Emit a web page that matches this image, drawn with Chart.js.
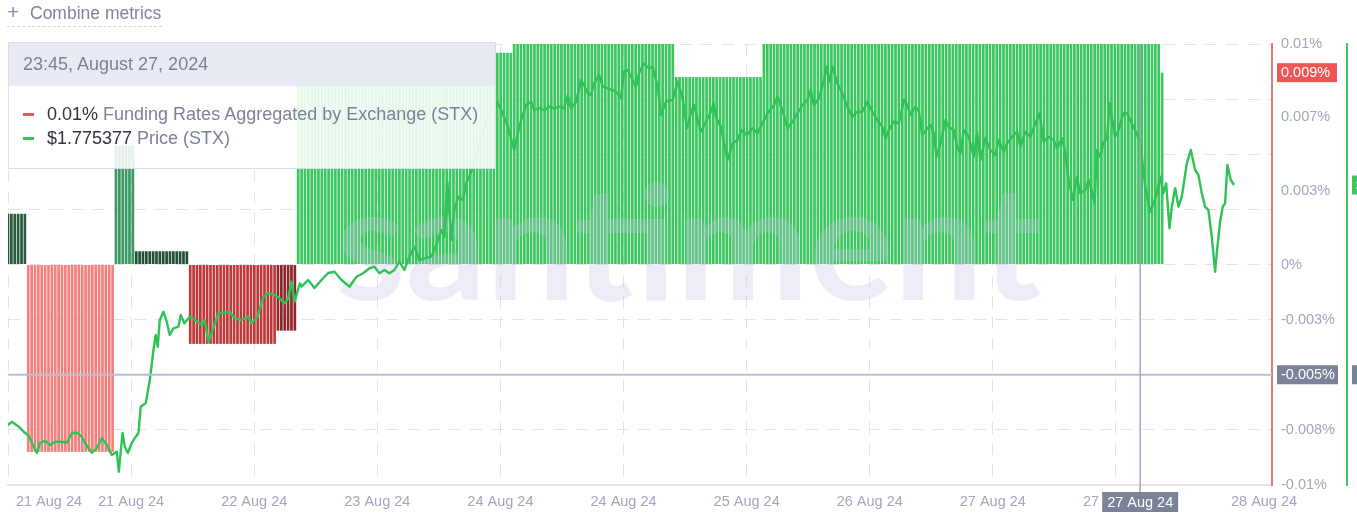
<!DOCTYPE html>
<html>
<head>
<meta charset="utf-8">
<script src="https://cdn.jsdelivr.net/npm/chart.js@4.4.1/dist/chart.umd.min.js"></script>
<style>
html,body{margin:0;padding:0;background:#fff;width:1357px;height:526px;overflow:hidden;font-family:"Liberation Sans",Arial,sans-serif;}
#wrap{position:relative;width:1357px;height:526px;}
#c{position:absolute;left:0;top:0;}
#combine{position:absolute;left:7px;top:0;height:26px;width:155px;line-height:24px;font-size:17.5px;color:#7f869b;white-space:nowrap;border-bottom:1px dashed #d3d6df;}
#combine .plus{display:inline-block;width:23px;font-size:21px;color:#8a90a3;}
#tip{position:absolute;left:8px;top:42px;width:488px;height:127px;border:1px solid #dadde6;background:rgba(255,255,255,0.87);box-sizing:border-box;}
#tipHead{height:43px;background:rgba(231,234,243,0.94);line-height:43px;padding-left:14px;font-size:18px;color:#7b8299;white-space:nowrap;}
.row{position:absolute;left:14px;height:22px;line-height:22px;font-size:18px;color:#7b8299;white-space:nowrap;}
.dash{display:inline-block;width:11px;height:3px;vertical-align:middle;margin-right:13px;position:relative;top:-1px;}
.val{color:#30343f;}
</style>
</head>
<body>
<div id="wrap">
<canvas id="c" width="1357" height="526"></canvas>
<div id="combine"><span class="plus">+</span>Combine metrics</div>
<div id="tip">
  <div id="tipHead"></div>
  <div class="row" style="top:60px"><span class="dash" style="background:#e25b5b"></span><span class="val" id="fVal"></span> <span id="fName"></span></div>
  <div class="row" style="top:84px"><span class="dash" style="background:#35c35a"></span><span class="val" id="pVal"></span> <span id="pName"></span></div>
</div>
</div>
<script>
// ---------------- DATA ----------------
// time unit: hours since 21 Aug 2024 00:00
const startDay = 21;
const monthShort = 'Aug';
const monthLong = 'August';
const yearFull = 2024;

// Funding rate (%), constant over each funding period, sampled every 30 min
const fundingBlockStarts = [0, 3, 16, 19, 27, 40, 43, 75, 99, 112, 171];
const fundingBlockValues = [0.0023, -0.0085, 0.0054, 0.0006, -0.0036, -0.0030, 0.0096, 0.0101, 0.0085, 0.0101, 0.0087];
const fundingStepHours = 0.5;
const fundingEndHour = 171.5;

// STX price (USD)
const priceHours = [0,0.59,1.04,1.58,2.32,3.06,3.55,4.29,4.73,5.47,6.21,6.95,7.99,8.73,9.47,10.21,10.95,11.39,12.43,13.17,13.91,14.64,15.38,16.12,16.42,16.97,17.31,17.75,18.34,18.79,19.33,19.67,20.41,21.01,21.55,21.89,22.19,22.49,23.03,23.52,23.96,24.51,25.25,25.59,26.14,26.92,27.66,28.70,29.14,29.69,30.43,31.17,31.91,32.84,33.58,34.62,35.61,36.09,36.98,37.82,38.57,39.54,40.24,40.98,41.52,42.01,42.46,43.24,43.49,44.48,45.41,46.45,47.44,48.37,49.41,50.59,51.63,52.62,53.55,54.29,55.03,55.77,56.51,57.25,57.99,58.73,59.47,60.21,60.95,61.69,62.72,63.46,64.20,64.64,65.09,65.68,66.12,66.72,67.41,67.90,68.64,69.53,70.41,71.30,72.49,73.08,74.07,75.00,75.55,76.04,76.78,77.51,77.96,78.70,79.44,80.18,80.92,81.66,82.40,82.94,83.43,84.17,84.91,85.36,85.90,86.39,86.83,87.57,88.12,88.86,89.60,90.34,90.83,91.27,91.82,92.31,93.05,93.49,94.23,94.97,95.52,96.26,96.75,97.49,98.48,99.22,99.96,100.59,101.18,101.63,102.66,103.40,104.14,104.54,104.88,105.62,106.61,107.35,108.09,108.68,109.47,110.31,111.05,111.79,112.53,113.51,114.01,114.75,115.49,116.23,116.97,117.71,118.45,118.93,119.42,120.16,120.90,121.30,121.64,122.15,122.88,123.62,124.36,125.10,125.84,126.58,127.32,128.06,128.80,129.54,130.03,130.52,131.26,132.00,132.74,133.24,133.73,134.47,134.96,135.46,136.20,136.69,137.17,137.57,138.17,138.91,139.39,140.13,140.63,141.12,141.61,142.35,143.09,143.59,144.08,144.82,145.56,146.30,146.79,147.53,148.03,148.77,149.51,150.00,150.74,151.48,152.22,152.86,153.45,154.19,154.93,155.43,156.17,156.66,157.15,157.80,158.39,158.88,159.62,160.10,160.61,160.99,161.35,161.83,162.32,162.82,163.21,163.57,164.05,164.54,165.28,165.78,166.27,166.76,167.50,167.75,168.00,168.49,169.23,169.72,170.22,170.71,171.20,171.60,172.09,172.44,172.93,173.42,173.92,174.66,175.25,175.89,176.38,176.88,177.37,177.86,178.36,178.85,179.19,179.59,179.98,180.33,180.67,181.17,181.66];
const priceValues = [1.4914,1.4947,1.4924,1.4897,1.4847,1.4807,1.4734,1.4634,1.4734,1.4757,1.4714,1.4747,1.4747,1.4737,1.4834,1.4837,1.4797,1.4734,1.4637,1.4684,1.4784,1.4714,1.4614,1.4647,1.4447,1.4834,1.4697,1.4634,1.4734,1.4784,1.4834,1.5097,1.5134,1.5364,1.5664,1.5814,1.5697,1.5964,1.6047,1.5947,1.5814,1.5881,1.5897,1.6014,1.5931,1.5997,1.5964,1.5914,1.5964,1.5747,1.5881,1.6034,1.6037,1.6047,1.5981,1.5964,1.5997,1.5931,1.5997,1.6197,1.6231,1.6214,1.6181,1.6131,1.6181,1.6347,1.6147,1.6331,1.6297,1.6364,1.6284,1.6364,1.6434,1.6447,1.6364,1.6297,1.6397,1.6431,1.6481,1.6497,1.6431,1.6464,1.6431,1.6464,1.6547,1.6464,1.6597,1.6697,1.6564,1.6581,1.6597,1.6714,1.6864,1.6797,1.7347,1.6764,1.7064,1.7197,1.7164,1.7331,1.7447,1.7664,1.7844,1.8044,1.8147,1.8064,1.7897,1.7664,1.7834,1.7964,1.8114,1.8147,1.8064,1.8084,1.8064,1.8097,1.8081,1.8097,1.8081,1.8214,1.8081,1.8147,1.8364,1.8314,1.8231,1.8214,1.8331,1.8414,1.8297,1.8281,1.8264,1.8231,1.8184,1.8447,1.8464,1.8397,1.8297,1.8431,1.8531,1.8481,1.8497,1.8297,1.8014,1.8147,1.8164,1.8347,1.8181,1.7881,1.8031,1.8114,1.7847,1.7947,1.8047,1.8131,1.7997,1.7897,1.7564,1.7731,1.7764,1.7864,1.7814,1.7881,1.7831,1.7931,1.8031,1.8114,1.8197,1.8064,1.7881,1.7947,1.8031,1.8114,1.8164,1.8264,1.8114,1.8181,1.8364,1.8497,1.8347,1.8497,1.8331,1.8231,1.8097,1.7997,1.8047,1.8047,1.8147,1.8047,1.7964,1.7897,1.7781,1.7864,1.7947,1.7931,1.8164,1.8114,1.8014,1.8097,1.8047,1.7814,1.7881,1.7914,1.7831,1.7597,1.7731,1.7964,1.7897,1.7864,1.7697,1.7631,1.7864,1.7797,1.7597,1.7831,1.7564,1.7781,1.7664,1.7614,1.7764,1.7647,1.7731,1.7797,1.7847,1.7697,1.7847,1.7797,1.7931,1.8031,1.7747,1.7797,1.7764,1.7681,1.7781,1.7631,1.7364,1.7164,1.7397,1.7231,1.7264,1.7364,1.7247,1.7131,1.7664,1.7597,1.7747,1.7764,1.8131,1.7981,1.7797,1.7864,1.8031,1.8031,1.7964,1.7897,1.7781,1.775377,1.7597,1.7297,1.7047,1.7131,1.7231,1.7397,1.7231,1.7331,1.6881,1.7097,1.7281,1.7097,1.7197,1.7531,1.7664,1.7464,1.7414,1.7231,1.7097,1.7064,1.6797,1.6447,1.6697,1.6947,1.7097,1.7131,1.7514,1.7364,1.7314];

// Axis ticks
const fundingGridValues = [-0.01, -0.0075, -0.005, -0.0025, 0, 0.0025, 0.005, 0.0075, 0.01];
const fundingTickValues = [-0.01, -0.0075, -0.0025, 0, 0.00333, 0.00667, 0.01];
const fundingTickLabels = ['-0.01%', '-0.008%', '-0.003%', '0%', '0.003%', '0.007%', '0.01%'];
const xGridHours = [0, 18.24, 36.48, 54.72, 72.96, 91.2, 109.44, 127.68, 145.92, 164.16];
const xLabelHours = [6.07, 18.24, 36.48, 54.72, 72.96, 91.2, 109.44, 127.68, 145.92, 164.16, 186.1];

// Hover state shown in the reference
const crosshairHour = 167.75;
const crosshairFunding = -0.005;

const fundingName = 'Funding Rates Aggregated by Exchange (STX)';
const priceName = 'Price (STX)';

// ---------------- BUILD ----------------
const fundingBars = [];
fundingBlockStarts.forEach((s, i) => {
  const e = i + 1 < fundingBlockStarts.length ? fundingBlockStarts[i + 1] : fundingEndHour;
  for (let t = s; t < e - 1e-9; t += fundingStepHours) fundingBars.push({x: t, y: fundingBlockValues[i]});
});
const pricePoints = priceHours.map((h, i) => ({x: h, y: priceValues[i]}));

function dayLabel(h) { return (startDay + Math.floor(h / 24)) + ' ' + monthShort + ' 24'; }
function fmtPct(v) { return String(Number(v.toFixed(3))) + '%'; }
function fundingAt(h) {
  let v = fundingBlockValues[0];
  fundingBlockStarts.forEach((s, i) => { if (h >= s) v = fundingBlockValues[i]; });
  return v;
}
function lerp(a, b, t) { return a.map((x, i) => Math.round(x + (b[i] - x) * t)); }
function stopColor(stops, a) {
  if (a <= stops[0][0]) return stops[0][1];
  for (let i = 1; i < stops.length; i++) {
    if (a <= stops[i][0]) {
      const t = (a - stops[i - 1][0]) / (stops[i][0] - stops[i - 1][0]);
      return lerp(stops[i - 1][1], stops[i][1], t);
    }
  }
  return stops[stops.length - 1][1];
}
const greenStops = [[0.0006, [33, 80, 54]], [0.0023, [40, 92, 62]], [0.0054, [58, 150, 98]], [0.0085, [60, 198, 96]]];
const redStops = [[0.003, [140, 40, 40]], [0.0036, [190, 58, 58]], [0.0085, [243, 128, 128]]];
function fundingColor(v) {
  const c = v >= 0 ? stopColor(greenStops, v) : stopColor(redStops, -v);
  return 'rgb(' + c.join(',') + ')';
}

const fundingAxisTicks = Array.from(new Set(fundingGridValues.concat(fundingTickValues))).sort((a, b) => a - b);
const xAxisTicks = Array.from(new Set(xGridHours.concat(xLabelHours))).sort((a, b) => a - b);
const tickFont = {family: 'Liberation Sans', size: 14.5};
const tickColor = '#a1a8bd';
const gridColor = '#e1e4ec';

const overlay = {
  id: 'overlay',
  afterDatasetDraw(chart, args) {
    if (args.index !== 1) return;
    const ctx = chart.ctx;
    ctx.save();
    let size = 160;
    ctx.font = '700 ' + size + 'px Lato, "Noto Sans", sans-serif';
    const w = ctx.measureText('santiment').width;
    size = size * 705 / w;
    ctx.font = '700 ' + size + 'px Lato, "Noto Sans", sans-serif';
    ctx.fillStyle = 'rgba(192,197,226,0.3)';
    ctx.textBaseline = 'alphabetic';
    ctx.fillText('santiment', 336, 300);
    ctx.restore();
  },
  afterDatasetsDraw(chart) {
    const ctx = chart.ctx, a = chart.chartArea;
    const x = chart.scales.x.getPixelForValue(crosshairHour);
    const y = chart.scales.yF.getPixelForValue(crosshairFunding);
    ctx.save();
    ctx.strokeStyle = '#b9bed5';
    ctx.lineWidth = 2;
    ctx.beginPath(); ctx.moveTo(a.left, y); ctx.lineTo(a.right, y); ctx.stroke();
    ctx.strokeStyle = '#9ea6bf';
    ctx.lineWidth = 1.5;
    ctx.beginPath(); ctx.moveTo(x, a.top); ctx.lineTo(x, a.bottom + 8); ctx.stroke();
    ctx.restore();
  },
  afterDraw(chart) {
    const ctx = chart.ctx, a = chart.chartArea;
    const yF = chart.scales.yF, yP = chart.scales.yP, xs = chart.scales.x;
    const x = xs.getPixelForValue(crosshairHour);
    const yc = yF.getPixelForValue(crosshairFunding);
    const lastF = fundingBlockValues[fundingBlockValues.length - 1];
    const lastP = priceValues[priceValues.length - 1];
    ctx.save();
    ctx.font = '14.5px "Liberation Sans", Arial, sans-serif';
    ctx.textBaseline = 'middle';
    function box(x0, yMid, w, fill, text) {
      ctx.fillStyle = fill;
      ctx.fillRect(x0, yMid - 9.5, w, 19);
      ctx.fillStyle = '#ffffff';
      ctx.textAlign = 'left';
      ctx.fillText(text, x0 + 4, yMid + 0.5);
    }
    box(yF.left + 5, yF.getPixelForValue(lastF), 60, '#f05656', fmtPct(lastF));
    box(yF.left + 5, yc, 61, '#7b8399', fmtPct(crosshairFunding));
    box(yP.left + 5, yP.getPixelForValue(lastP), 60, '#3cc85f', '$' + lastP.toFixed(2));
    box(yP.left + 5, yc, 60, '#7b8399', '');
    // date label under crosshair
    ctx.fillStyle = '#7b8399';
    ctx.fillRect(x - 38, a.bottom + 7, 76, 20);
    ctx.fillStyle = '#ffffff';
    ctx.textAlign = 'center';
    ctx.fillText(dayLabel(crosshairHour), x, a.bottom + 17.5);
    ctx.restore();
  }
};

new Chart(document.getElementById('c'), {
  type: 'bar',
  data: {
    datasets: [
      {
        type: 'line', label: priceName, data: pricePoints, xAxisID: 'x', yAxisID: 'yP',
        borderColor: '#30c256', borderWidth: 2.4, pointRadius: 0, tension: 0,
        borderJoinStyle: 'round', order: 0
      },
      {
        type: 'bar', label: fundingName, data: fundingBars, xAxisID: 'x', yAxisID: 'yF',
        backgroundColor: c => fundingColor(c.raw ? c.raw.y : 0),
        barPercentage: 0.8, categoryPercentage: 1, order: 1
      }
    ]
  },
  options: {
    responsive: false,
    animation: false,
    devicePixelRatio: 1,
    layout: {padding: {left: 6, top: 44, right: 0, bottom: 0}},
    plugins: {legend: {display: false}, tooltip: {enabled: false}},
    events: [],
    scales: {
      x: {
        type: 'linear', position: 'bottom', min: 0, max: 187.28, offset: false,
        afterBuildTicks: s => { s.ticks = xAxisTicks.map(v => ({value: v})); },
        afterFit: s => { s.height = 41; },
        grid: {
          offset: false, drawTicks: false, lineWidth: 1,
          color: c => (c.tick && xGridHours.includes(c.tick.value)) ? gridColor : 'rgba(0,0,0,0)'
        },
        border: {color: '#e3e5ec', width: 2, dash: [12, 9]},
        ticks: {
          autoSkip: false, maxRotation: 0, minRotation: 0, padding: 8, color: tickColor, font: tickFont,
          callback: v => xLabelHours.includes(v) ? dayLabel(v) : ''
        }
      },
      yF: {
        type: 'linear', position: 'right', min: -0.01, max: 0.01,
        afterBuildTicks: s => { s.ticks = fundingAxisTicks.map(v => ({value: v})); },
        afterFit: s => { s.width = 75; },
        grid: {
          drawTicks: false, lineWidth: 1,
          color: c => (c.tick && fundingGridValues.includes(c.tick.value)) ? gridColor : 'rgba(0,0,0,0)'
        },
        border: {color: '#de7c7c', width: 2, dash: [12, 9]},
        ticks: {
          autoSkip: false, padding: 9, color: tickColor, font: tickFont,
          callback: v => { const i = fundingTickValues.indexOf(v); return i >= 0 ? fundingTickLabels[i] : ''; }
        }
      },
      yP: {
        type: 'linear', position: 'right', min: 1.4314, max: 1.8724,
        afterFit: s => { s.width = 10; },
        grid: {display: false, drawOnChartArea: false},
        ticks: {display: false},
        border: {color: '#45c765', width: 2}
      }
    }
  },
  plugins: [overlay]
});

// Tooltip text from data at the hovered time
const hh = Math.floor(crosshairHour % 24), mm = Math.round((crosshairHour % 1) * 60);
document.getElementById('tipHead').textContent =
  String(hh).padStart(2, '0') + ':' + String(mm).padStart(2, '0') + ', ' + monthLong + ' ' +
  (startDay + Math.floor(crosshairHour / 24)) + ', ' + yearFull;
document.getElementById('fVal').textContent = fmtPct(Number(fundingAt(crosshairHour).toFixed(2)));
document.getElementById('fName').textContent = fundingName;
document.getElementById('pVal').textContent = '$' + priceValues[priceHours.indexOf(crosshairHour)];
document.getElementById('pName').textContent = priceName;
</script>
</body>
</html>
